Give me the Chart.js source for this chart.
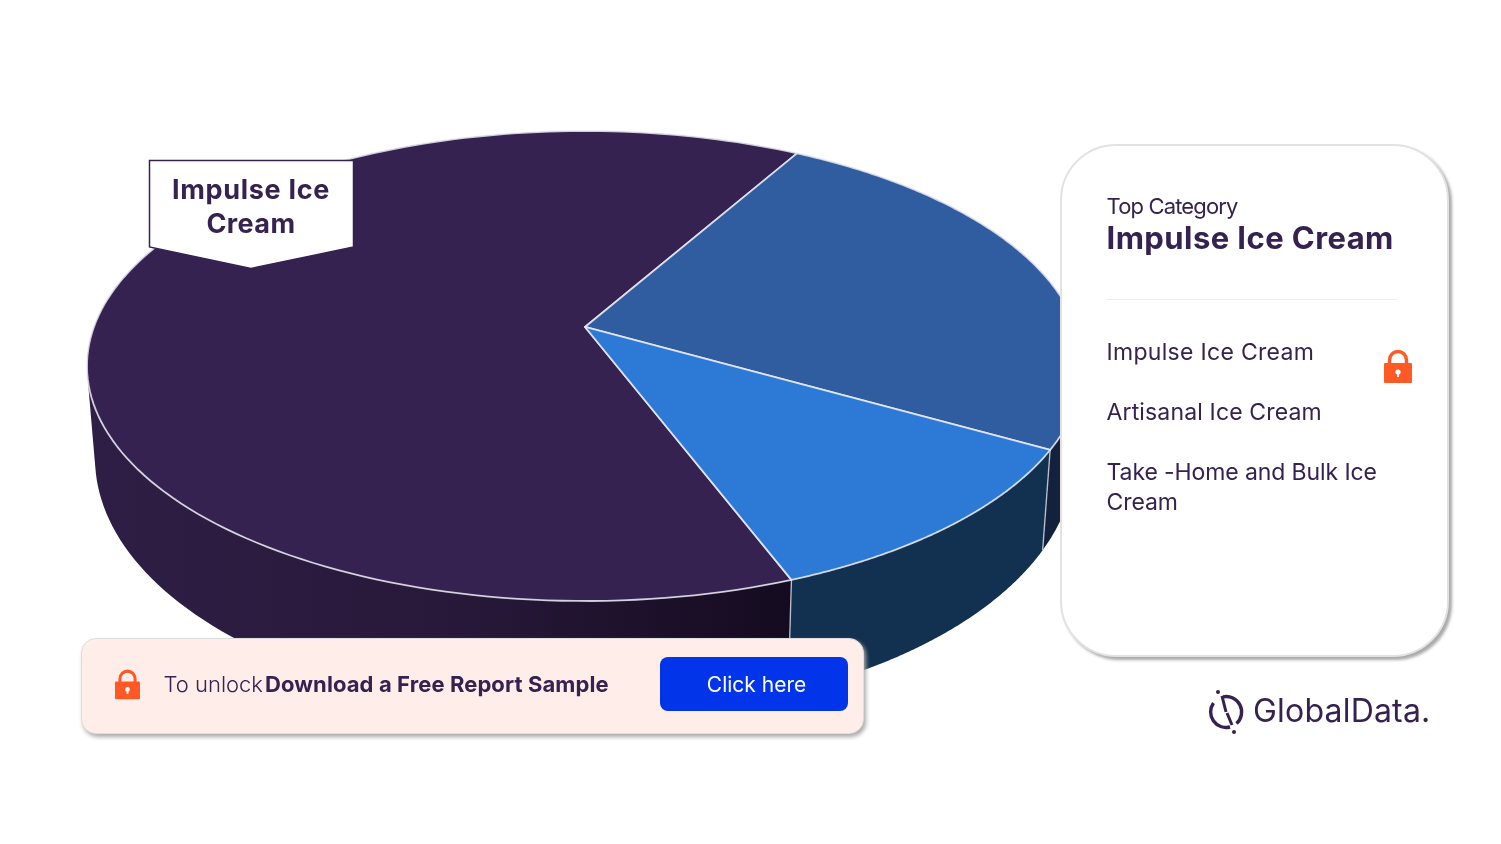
<!DOCTYPE html>
<html>
<head>
<meta charset="utf-8">
<script src="https://cdn.jsdelivr.net/npm/chart.js@4/dist/chart.umd.min.js"></script>
<style>
    html, body { margin: 0; padding: 0; background: #fff; }
    body { width: 1501px; height: 844px; overflow: hidden; position: relative; font-family: Inter, sans-serif; color: #352250; }
    #pie_chart { position: absolute; left: 0; top: 0; }
    .txt { position: absolute; white-space: nowrap; }
    #callout { position: absolute; left: 0; top: 0; }
    #card { position: absolute; left: 1060px; top: 144px; width: 385px; height: 509px; background: #fff; border: 2px solid #e2e2e2; border-radius: 56px; box-shadow: 3px 3px 3px #aaa; }
    #divider { position: absolute; left: 1107px; top: 299px; width: 291px; height: 1px; background: #eee; }
    #banner { position: absolute; left: 81px; top: 638px; width: 781px; height: 94px; background: #ffedea; border: 1px solid #ddd; border-radius: 15px; box-shadow: 2px 3px 4px #aaa; }
    #button { position: absolute; left: 660px; top: 657px; width: 188px; height: 54px; background: #0234ea; border-radius: 8px; }
    svg.lock { position: absolute; }
</style>
</head>
<body>
<canvas id="pie_chart" width="1501" height="844"></canvas>

<svg id="callout" width="1501" height="844">
    <polygon points="149.5,160.5 353.5,160.5 353.5,247 251,268.5 149.5,247" fill="#fff" stroke="#352250" stroke-width="1.5"/>
</svg>
<div class="txt" id="callout_1" style="left:101px;width:300px;text-align:center;top:173px;font:700 27px/34px Inter,sans-serif;letter-spacing:0.7px;"></div>
<div class="txt" id="callout_2" style="left:101px;width:300px;text-align:center;top:207px;font:700 27px/34px Inter,sans-serif;letter-spacing:0.4px;"></div>

<div id="card"></div>
<div class="txt" id="top_label" style="left:1106.5px;top:192px;font:400 22px/28px Inter,sans-serif;letter-spacing:-0.85px;"></div>
<div class="txt" id="top_name" style="left:1106.5px;top:219px;font:700 31px/38px Inter,sans-serif;letter-spacing:0.43px;"></div>
<div id="divider"></div>
<div id="legend_list"></div>

<svg class="lock" style="left:1384px;top:350px" width="28" height="33" viewBox="0 0 28 33">
    <path d="M5.5 15 V10 a8.5 8.5 0 0 1 17 0 V15" fill="none" stroke="#ff5a26" stroke-width="3.4"/>
    <rect x="0" y="13" width="28" height="20" rx="1" fill="#ff5a26"/>
    <circle cx="14" cy="22" r="2.6" fill="#fff"/><rect x="13" y="23" width="2" height="4" fill="#fff"/>
</svg>

<div id="banner"></div>
<svg class="lock" style="left:115px;top:669px" width="25" height="31" viewBox="0 0 28 33">
    <path d="M5.5 15 V10 a8.5 8.5 0 0 1 17 0 V15" fill="none" stroke="#ff5a26" stroke-width="3.4"/>
    <rect x="0" y="13" width="28" height="20" rx="1" fill="#ff5a26"/>
    <circle cx="14" cy="22" r="2.6" fill="#fff"/><rect x="13" y="23" width="2" height="4" fill="#fff"/>
</svg>
<div class="txt" style="left:163.5px;top:670px;font:300 22px/28px Inter,sans-serif;">To unlock</div>
<div class="txt" style="left:265px;top:670px;font:700 22px/28px Inter,sans-serif;letter-spacing:0.1px;">Download a Free Report Sample</div>
<div id="button"></div>
<div class="txt" style="left:662.5px;width:188px;text-align:center;top:671px;font:400 21px/28px Inter,sans-serif;color:#fff;">Click here</div>

<svg class="lock" style="left:1205px;top:688px" width="50" height="48" viewBox="0 0 50 48">
    <path d="M8.5 15 A15.5 15.5 0 0 0 25 39" fill="none" stroke="#352250" stroke-width="3.4"/>
    <path d="M18 8.8 A15.5 15.5 0 0 1 31.5 35.5" fill="none" stroke="#352250" stroke-width="3.4"/>
    <path d="M17 8 L21 24 M22 25 L27 37" fill="none" stroke="#352250" stroke-width="3"/>
    <circle cx="13" cy="4" r="2" fill="#352250"/><circle cx="29" cy="44" r="2" fill="#352250"/>
</svg>
<div class="txt" style="left:1253px;top:691px;font:400 32px/40px Inter,sans-serif;letter-spacing:0.2px;">GlobalData.</div>

<script>
// chart values
const categories = ["Impulse Ice Cream", "Artisanal Ice Cream", "Take -Home and Bulk Ice Cream"];
const share_values = [64, 25, 11];
const start_angle = 159.2;

// colours
const top_colors = ["#352250", "#305da0", "#2c7ad6"];
const wall_colors = ["#2a1b3f", "#14213d", "#12304f"];
const edge_color = "rgba(235, 235, 245, 0.85)";

// the tilted disc: upper rim, lower rim and perspective shift of the centre
const upper_rim = { cx: 585, cy: 366, a: 498, b: 235 };
const lower_rim = { cx: 585, cy: 458, a: 490, b: 258 };
const tilt = 0.166;

// page text
document.getElementById("callout_1").textContent = "Impulse Ice";
document.getElementById("callout_2").textContent = "Cream";
document.getElementById("top_label").textContent = "Top Category";
document.getElementById("top_name").textContent = categories[0];
const legend_tops = [337, 397, 457];
const legend_spacing = [0.3, 0.15, -0.1];
categories.forEach((name, i) => {
    const item = document.createElement("div");
    item.className = "txt";
    item.style.cssText = `left:1106.5px;top:${legend_tops[i]}px;width:295px;white-space:normal;font:400 23px/30px Inter,sans-serif;letter-spacing:${legend_spacing[i]}px;`;
    item.textContent = name;
    document.getElementById("legend_list").appendChild(item);
});

// chart.js angle on the flat disc -> unit position on the tilted rim
function projectAngle(angle) {
    const u = Math.cos(angle), v = Math.sin(angle);
    const d = 1 - tilt * v;
    return [u * Math.sqrt(1 - tilt * tilt) / d, (v - tilt) / d];
}
function rimPoints(rim, arc, steps = 160) {
    const points = [];
    for (let i = 0; i <= steps; i++) {
        const [u, v] = projectAngle(arc.startAngle + (arc.endAngle - arc.startAngle) * i / steps);
        points.push([rim.cx + u * rim.a, rim.cy + v * rim.b]);
    }
    return points;
}
function signedArea(quad) {
    let area = 0;
    quad.forEach((p, i) => {
        const q = quad[(i + 1) % quad.length];
        area += p[0] * q[1] - q[0] * p[1];
    });
    return area;
}

// draws the pie slices of chart.js as a 3d disc
const discPlugin = {
    id: "disc",
    beforeDatasetDraw(chart, args) {
        const ctx = chart.ctx;
        const arcs = chart.getDatasetMeta(args.index).data;
        ctx.save();

        // walls, back slices first; same-winding quads in one path so the side edge stays straight
        [1, 2, 0].forEach((i) => {
            const top = rimPoints(upper_rim, arcs[i]);
            const low = rimPoints(lower_rim, arcs[i]);
            let style = wall_colors[i];
            if (i === 0) {
                style = ctx.createLinearGradient(90, 0, 790, 0);
                style.addColorStop(0, "#2e1e45");
                style.addColorStop(0.5, "#28193a");
                style.addColorStop(1, "#150b20");
            }
            ctx.fillStyle = style;
            ctx.beginPath();
            for (let s = 0; s < top.length - 1; s++) {
                const quad = [top[s], top[s + 1], low[s + 1], low[s]];
                if (signedArea(quad) < 0) quad.reverse();
                ctx.moveTo(quad[0][0], quad[0][1]);
                for (let c = 1; c < 4; c++) ctx.lineTo(quad[c][0], quad[c][1]);
                ctx.closePath();
            }
            ctx.fill();
        });

        // wall seams
        ctx.strokeStyle = "rgba(225, 225, 235, 0.75)";
        ctx.lineWidth = 1.4;
        [arcs[2].startAngle, arcs[2].endAngle].forEach((angle) => {
            const [u, v] = projectAngle(angle);
            ctx.beginPath();
            ctx.moveTo(upper_rim.cx + u * upper_rim.a, upper_rim.cy + v * upper_rim.b);
            ctx.lineTo(lower_rim.cx + u * lower_rim.a, lower_rim.cy + v * lower_rim.b);
            ctx.stroke();
        });

        // top faces
        const apex = [upper_rim.cx, upper_rim.cy - tilt * upper_rim.b];
        arcs.forEach((arc, i) => {
            ctx.beginPath();
            ctx.moveTo(apex[0], apex[1]);
            rimPoints(upper_rim, arc).forEach((p) => ctx.lineTo(p[0], p[1]));
            ctx.closePath();
            ctx.fillStyle = top_colors[i];
            ctx.strokeStyle = edge_color;
            ctx.lineWidth = 1.8;
            ctx.lineJoin = "round";
            ctx.fill();
            ctx.stroke();
        });
        ctx.restore();
        return false;
    }
};

const pie_chart = new Chart("pie_chart", {
    type: "pie",
    data: {
        labels: categories,
        datasets: [{
            data: share_values,
            backgroundColor: top_colors
        }]
    },
    options: {
        animation: false,
        responsive: false,
        rotation: start_angle,
        events: [],
        plugins: {
            legend: { display: false },
            tooltip: { enabled: false }
        }
    },
    plugins: [discPlugin]
});
</script>
</body>
</html>
